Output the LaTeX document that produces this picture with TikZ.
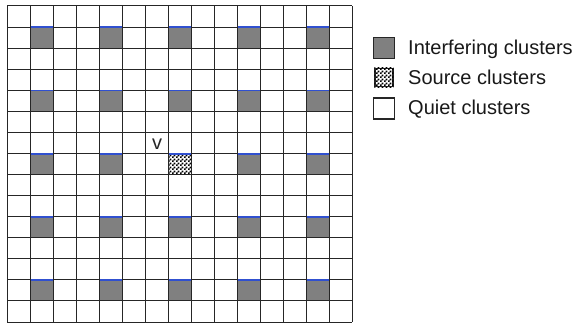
\documentclass[tikz,border=0pt]{standalone}
\usepackage{fontspec}
\setmainfont{Liberation Sans}
\usetikzlibrary{patterns}
\pgfdeclarepatternformonly{finecheck}{\pgfpointorigin}{\pgfqpoint{4pt}{4pt}}{\pgfqpoint{4pt}{4pt}}{%
  \pgfpathrectangle{\pgfpointorigin}{\pgfqpoint{2pt}{2pt}}%
  \pgfpathrectangle{\pgfqpoint{2pt}{2pt}}{\pgfqpoint{2pt}{2pt}}%
  \pgfusepath{fill}}
\definecolor{cellgray}{HTML}{808080}
\definecolor{edgeblue}{HTML}{3050D0}
\begin{document}
\begin{tikzpicture}[x=1pt,y=-1pt,
  gridline/.style={draw=black!85,line width=1pt},
  blueedge/.style={draw=edgeblue,line width=1.8pt},
  legbox/.style={draw=black!85,line width=1.2pt,inner sep=0pt,minimum width=21pt,minimum height=21pt},
  legtext/.style={font=\fontsize{20}{24}\selectfont,text=black!90,inner sep=0pt,anchor=base west}]
\useasboundingbox[fill=white] (0,0) rectangle (576,326);
\def\gx{7.3}\def\gy{6}\def\cw{23}\def\ch{21.07}
% interfering cells
\foreach \c in {1,4,7,10,13}{
  \foreach \r in {1,4,7,10,13}{
    \fill[cellgray] ({\gx+\c*\cw},{\gy+\r*\ch}) rectangle ++(\cw,\ch);
  }
}
% source cell
\fill[white] ({\gx+7*\cw},{\gy+7*\ch}) rectangle ++(\cw,\ch);
\fill[pattern=finecheck,pattern color=black] ({\gx+7*\cw},{\gy+7*\ch}) rectangle ++(\cw,\ch);
% grid
\foreach \i in {0,...,15}{
  \draw[gridline] ({\gx+\i*\cw},\gy) -- ++(0,{15*\ch});
  \draw[gridline] (\gx,{\gy+\i*\ch}) -- ++({15*\cw},0);
}
% blue top edges
\foreach \c in {1,4,7,10,13}{
  \foreach \r in {1,4,7,10,13}{
    \draw[blueedge] ({\gx+\c*\cw+0.6},{\gy+\r*\ch+0.3}) -- ++({\cw-1.2},0);
  }
}
\node[font=\fontsize{20}{24}\selectfont,text=black!85,inner sep=0pt] (vlabel) at (157,144) {v};
% legend
\node[legbox,fill=cellgray] (boxint) at (384,48) {};
\node[legbox,minimum width=18pt,minimum height=18pt,fill=white] (boxsrc) at (384,77.5) {};
\fill[pattern=finecheck,pattern color=black] (boxsrc.south west) rectangle (boxsrc.north east);
\node[legbox,fill=white] (boxqui) at (384,108.5) {};
\node[legtext] (tint) at (408,55) {Interfering clusters};
\node[legtext] (tsrc) at (408,85) {Source clusters};
\node[legtext] (tqui) at (408,115) {Quiet clusters};
\end{tikzpicture}
\end{document}
